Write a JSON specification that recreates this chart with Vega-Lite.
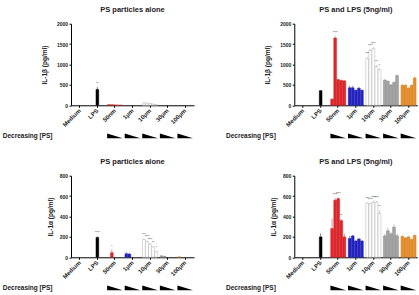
{
 "$schema": "https://vega.github.io/schema/vega-lite/v6.json",
 "padding": {"left": 2, "top": 5.7, "right": 0, "bottom": 0},
 "background": "white",
 "config": {
  "view": {"stroke": null},
  "font": "Liberation Sans",
  "axis": {"domainColor": "#000", "tickColor": "#000", "labelFont": "Liberation Sans", "labelFontWeight": "bold", "labelColor": "#222", "titleFont": "Liberation Sans", "titleFontWeight": "bold", "titleColor": "#222", "grid": false, "tickSize": 2, "domainWidth": 1, "tickWidth": 1},
  "title": {"font": "Liberation Sans", "fontSize": 7.5, "fontWeight": "bold", "color": "#222", "offset": 8}
 },
 "datasets": {
  "tl": [
   {"g": "Medium", "i": 3, "v": 0, "hi": 0},
   {"g": "LPS", "i": 3, "v": 390, "hi": 450, "s": "**"},
   {"g": "50nm", "i": 1, "v": 15, "hi": 20}, {"g": "50nm", "i": 2, "v": 15, "hi": 20}, {"g": "50nm", "i": 3, "v": 10, "hi": 15}, {"g": "50nm", "i": 4, "v": 5, "hi": 8}, {"g": "50nm", "i": 5, "v": 5, "hi": 8},
   {"g": "1µm", "i": 1, "v": 0, "hi": 0}, {"g": "1µm", "i": 2, "v": 0, "hi": 0}, {"g": "1µm", "i": 3, "v": 0, "hi": 0}, {"g": "1µm", "i": 4, "v": 0, "hi": 0}, {"g": "1µm", "i": 5, "v": 0, "hi": 0},
   {"g": "10µm", "i": 1, "v": 60, "hi": 70}, {"g": "10µm", "i": 2, "v": 55, "hi": 65}, {"g": "10µm", "i": 3, "v": 45, "hi": 55}, {"g": "10µm", "i": 4, "v": 30, "hi": 35}, {"g": "10µm", "i": 5, "v": 15, "hi": 20},
   {"g": "30µm", "i": 1, "v": 0, "hi": 0}, {"g": "30µm", "i": 2, "v": 0, "hi": 0}, {"g": "30µm", "i": 3, "v": 0, "hi": 0}, {"g": "30µm", "i": 4, "v": 0, "hi": 0}, {"g": "30µm", "i": 5, "v": 0, "hi": 0},
   {"g": "100µm", "i": 1, "v": 0, "hi": 0}, {"g": "100µm", "i": 2, "v": 0, "hi": 0}, {"g": "100µm", "i": 3, "v": 0, "hi": 0}, {"g": "100µm", "i": 4, "v": 0, "hi": 0}, {"g": "100µm", "i": 5, "v": 0, "hi": 0}
  ],
  "tr": [
   {"g": "Medium", "i": 3, "v": 0, "hi": 0},
   {"g": "LPS", "i": 3, "v": 360, "hi": 375},
   {"g": "50nm", "i": 1, "v": 150, "hi": 180}, {"g": "50nm", "i": 2, "v": 1650, "hi": 1690, "s": "****"}, {"g": "50nm", "i": 3, "v": 630, "hi": 650}, {"g": "50nm", "i": 4, "v": 610, "hi": 630}, {"g": "50nm", "i": 5, "v": 600, "hi": 615},
   {"g": "1µm", "i": 1, "v": 430, "hi": 480}, {"g": "1µm", "i": 2, "v": 430, "hi": 480}, {"g": "1µm", "i": 3, "v": 370, "hi": 390}, {"g": "1µm", "i": 4, "v": 420, "hi": 450}, {"g": "1µm", "i": 5, "v": 370, "hi": 385},
   {"g": "10µm", "i": 1, "v": 1150, "hi": 1190, "s": "***"}, {"g": "10µm", "i": 2, "v": 1350, "hi": 1380, "s": "****"}, {"g": "10µm", "i": 3, "v": 1390, "hi": 1430, "s": "****"}, {"g": "10µm", "i": 4, "v": 950, "hi": 990, "s": "**"}, {"g": "10µm", "i": 5, "v": 870, "hi": 900, "s": "*"},
   {"g": "30µm", "i": 1, "v": 620, "hi": 635}, {"g": "30µm", "i": 2, "v": 590, "hi": 610}, {"g": "30µm", "i": 3, "v": 500, "hi": 520}, {"g": "30µm", "i": 4, "v": 560, "hi": 590}, {"g": "30µm", "i": 5, "v": 730, "hi": 750},
   {"g": "100µm", "i": 1, "v": 490, "hi": 530}, {"g": "100µm", "i": 2, "v": 490, "hi": 530}, {"g": "100µm", "i": 3, "v": 420, "hi": 440}, {"g": "100µm", "i": 4, "v": 490, "hi": 510}, {"g": "100µm", "i": 5, "v": 670, "hi": 710}
  ],
  "bl": [
   {"g": "Medium", "i": 3, "v": 0, "hi": 0},
   {"g": "LPS", "i": 3, "v": 195, "hi": 205, "s": "****"},
   {"g": "50nm", "i": 1, "v": 0, "hi": 0}, {"g": "50nm", "i": 2, "v": 45, "hi": 75, "s": "*"}, {"g": "50nm", "i": 3, "v": 0, "hi": 0}, {"g": "50nm", "i": 4, "v": 0, "hi": 0}, {"g": "50nm", "i": 5, "v": 0, "hi": 0},
   {"g": "1µm", "i": 1, "v": 35, "hi": 50}, {"g": "1µm", "i": 2, "v": 32, "hi": 42}, {"g": "1µm", "i": 3, "v": 0, "hi": 0}, {"g": "1µm", "i": 4, "v": 0, "hi": 0}, {"g": "1µm", "i": 5, "v": 0, "hi": 0},
   {"g": "10µm", "i": 1, "v": 175, "hi": 185, "s": "***"}, {"g": "10µm", "i": 2, "v": 155, "hi": 165, "s": "****"}, {"g": "10µm", "i": 3, "v": 130, "hi": 140, "s": "****"}, {"g": "10µm", "i": 4, "v": 100, "hi": 110, "s": "**"}, {"g": "10µm", "i": 5, "v": 55, "hi": 65, "s": "*"},
   {"g": "30µm", "i": 1, "v": 15, "hi": 18}, {"g": "30µm", "i": 2, "v": 10, "hi": 12}, {"g": "30µm", "i": 3, "v": 0, "hi": 0}, {"g": "30µm", "i": 4, "v": 0, "hi": 0}, {"g": "30µm", "i": 5, "v": 0, "hi": 0},
   {"g": "100µm", "i": 1, "v": 5, "hi": 6}, {"g": "100µm", "i": 2, "v": 0, "hi": 0}, {"g": "100µm", "i": 3, "v": 0, "hi": 0}, {"g": "100µm", "i": 4, "v": 0, "hi": 0}, {"g": "100µm", "i": 5, "v": 0, "hi": 0}
  ],
  "br": [
   {"g": "Medium", "i": 3, "v": 0, "hi": 0},
   {"g": "LPS", "i": 3, "v": 200, "hi": 235},
   {"g": "50nm", "i": 1, "v": 282, "hi": 380}, {"g": "50nm", "i": 2, "v": 560, "hi": 580, "s": "****"}, {"g": "50nm", "i": 3, "v": 575, "hi": 590, "s": "****"}, {"g": "50nm", "i": 4, "v": 360, "hi": 375, "s": "**"}, {"g": "50nm", "i": 5, "v": 200, "hi": 230},
   {"g": "1µm", "i": 1, "v": 185, "hi": 210}, {"g": "1µm", "i": 2, "v": 210, "hi": 220}, {"g": "1µm", "i": 3, "v": 160, "hi": 170}, {"g": "1µm", "i": 4, "v": 180, "hi": 188}, {"g": "1µm", "i": 5, "v": 160, "hi": 170},
   {"g": "10µm", "i": 1, "v": 530, "hi": 540, "s": "***"}, {"g": "10µm", "i": 2, "v": 525, "hi": 535, "s": "****"}, {"g": "10µm", "i": 3, "v": 540, "hi": 555, "s": "****"}, {"g": "10µm", "i": 4, "v": 540, "hi": 550, "s": "****"}, {"g": "10µm", "i": 5, "v": 430, "hi": 460, "s": "**"},
   {"g": "30µm", "i": 1, "v": 210, "hi": 230}, {"g": "30µm", "i": 2, "v": 260, "hi": 290}, {"g": "30µm", "i": 3, "v": 230, "hi": 245}, {"g": "30µm", "i": 4, "v": 295, "hi": 320}, {"g": "30µm", "i": 5, "v": 210, "hi": 230},
   {"g": "100µm", "i": 1, "v": 205, "hi": 215}, {"g": "100µm", "i": 2, "v": 190, "hi": 200}, {"g": "100µm", "i": 3, "v": 200, "hi": 210}, {"g": "100µm", "i": 4, "v": 175, "hi": 185}, {"g": "100µm", "i": 5, "v": 215, "hi": 225}
  ],
  "tri": [{"g": "50nm"}, {"g": "1µm"}, {"g": "10µm"}, {"g": "30µm"}, {"g": "100µm"}]
 },
 "columns": 2,
 "bounds": "flush",
 "spacing": {"row": 29, "column": 100.3},
 "concat": [
  {
   "width": 123, "height": 81.6,
   "title": "PS particles alone",
   "data": {"name": "tl"},
   "encoding": {
    "x": {"field": "g", "type": "nominal", "sort": ["Medium","LPS","50nm","1µm","10µm","30µm","100µm"], "scale": {"type": "band", "domain": ["Medium","LPS","50nm","1µm","10µm","30µm","100µm"], "paddingInner": 0, "paddingOuter": 0}, "axis": {"title": null, "labelAngle": -45, "labelAlign": "right", "labelBaseline": "middle", "labelFontSize": 6, "labelPadding": 2}},
    "xOffset": {"field": "i", "type": "ordinal", "scale": {"domain": [1,2,3,4,5], "paddingInner": 0.08, "paddingOuter": 0.4}},
    "y": {"field": "v", "type": "quantitative", "scale": {"domain": [0, 2000]}, "axis": {"title": "IL-1β (pg/ml)", "format": "d", "values": [0,500,1000,1500,2000], "labelFontSize": 5, "labelPadding": 1.5, "titleFontSize": 6.5, "titlePadding": 9}}
   },
   "layer": [
    {"transform": [{"filter": "datum.v > 0"}], "mark": {"type": "bar", "strokeWidth": 0.4}, "encoding": {
      "color": {"field": "g", "type": "nominal", "scale": {"domain": ["Medium","LPS","50nm","1µm","10µm","30µm","100µm"], "range": ["#000000","#000000","#e4262a","#2424c6","#ffffff","#a5a5a5","#e8902c"]}, "legend": null},
      "stroke": {"field": "g", "type": "nominal", "scale": {"domain": ["Medium","LPS","50nm","1µm","10µm","30µm","100µm"], "range": ["#000000","#000000","#b81c1f","#1a1a9a","#a0a0a0","#7a7a7a","#c4731c"]}, "legend": null}}},
    {"transform": [{"filter": "datum.hi > datum.v"}], "mark": {"type": "rule", "strokeWidth": 0.5}, "encoding": {"y2": {"field": "hi"},
      "stroke": {"field": "g", "type": "nominal", "scale": {"domain": ["Medium","LPS","50nm","1µm","10µm","30µm","100µm"], "range": ["#000000","#000000","#b81c1f","#1a1a9a","#a0a0a0","#7a7a7a","#c4731c"]}, "legend": null}}},
    {"transform": [{"filter": "datum.s"}], "mark": {"type": "text", "fontSize": 3, "baseline": "bottom", "dy": -1, "color": "#333"}, "encoding": {"y": {"field": "hi", "type": "quantitative"}, "text": {"field": "s"}}}
   ]
  },
  {
   "width": 123, "height": 81.6,
   "title": "PS and LPS (5ng/ml)",
   "data": {"name": "tr"},
   "encoding": {
    "x": {"field": "g", "type": "nominal", "sort": ["Medium","LPS","50nm","1µm","10µm","30µm","100µm"], "scale": {"type": "band", "domain": ["Medium","LPS","50nm","1µm","10µm","30µm","100µm"], "paddingInner": 0, "paddingOuter": 0}, "axis": {"title": null, "labelAngle": -45, "labelAlign": "right", "labelBaseline": "middle", "labelFontSize": 6, "labelPadding": 2}},
    "xOffset": {"field": "i", "type": "ordinal", "scale": {"domain": [1,2,3,4,5], "paddingInner": 0.08, "paddingOuter": 0.4}},
    "y": {"field": "v", "type": "quantitative", "scale": {"domain": [0, 2000]}, "axis": {"title": "IL-1β (pg/ml)", "format": "d", "values": [0,500,1000,1500,2000], "labelFontSize": 5, "labelPadding": 1.5, "titleFontSize": 6.5, "titlePadding": 9}}
   },
   "layer": [
    {"transform": [{"filter": "datum.v > 0"}], "mark": {"type": "bar", "strokeWidth": 0.4}, "encoding": {
      "color": {"field": "g", "type": "nominal", "scale": {"domain": ["Medium","LPS","50nm","1µm","10µm","30µm","100µm"], "range": ["#000000","#000000","#e4262a","#2424c6","#ffffff","#a5a5a5","#e8902c"]}, "legend": null},
      "stroke": {"field": "g", "type": "nominal", "scale": {"domain": ["Medium","LPS","50nm","1µm","10µm","30µm","100µm"], "range": ["#000000","#000000","#b81c1f","#1a1a9a","#a0a0a0","#7a7a7a","#c4731c"]}, "legend": null}}},
    {"transform": [{"filter": "datum.hi > datum.v"}], "mark": {"type": "rule", "strokeWidth": 0.5}, "encoding": {"y2": {"field": "hi"},
      "stroke": {"field": "g", "type": "nominal", "scale": {"domain": ["Medium","LPS","50nm","1µm","10µm","30µm","100µm"], "range": ["#000000","#000000","#b81c1f","#1a1a9a","#a0a0a0","#7a7a7a","#c4731c"]}, "legend": null}}},
    {"transform": [{"filter": "datum.s"}], "mark": {"type": "text", "fontSize": 3, "baseline": "bottom", "dy": -1, "color": "#333"}, "encoding": {"y": {"field": "hi", "type": "quantitative"}, "text": {"field": "s"}}}
   ]
  },
  {
   "width": 123, "height": 12,
   "data": {"name": "tri"},
   "mark": {"type": "point", "shape": "M-1,-0.3L1,0.3L-1,0.3Z", "filled": true, "color": "#000", "opacity": 1, "size": 243},
   "encoding": {
    "x": {"field": "g", "type": "nominal", "scale": {"type": "band", "domain": ["Medium","LPS","50nm","1µm","10µm","30µm","100µm"], "paddingInner": 0, "paddingOuter": 0}, "axis": null},
    "y": {"datum": 0.9, "type": "quantitative", "scale": {"domain": [0, 1]}, "axis": {"values": [0.9], "labelExpr": "'Decreasing [PS]'", "domain": false, "ticks": false, "labelPadding": 19, "labelFontSize": 6.5, "title": null}}
   }
  },
  {
   "width": 123, "height": 12,
   "data": {"name": "tri"},
   "mark": {"type": "point", "shape": "M-1,-0.3L1,0.3L-1,0.3Z", "filled": true, "color": "#000", "opacity": 1, "size": 243},
   "encoding": {
    "x": {"field": "g", "type": "nominal", "scale": {"type": "band", "domain": ["Medium","LPS","50nm","1µm","10µm","30µm","100µm"], "paddingInner": 0, "paddingOuter": 0}, "axis": null},
    "y": {"datum": 0.9, "type": "quantitative", "scale": {"domain": [0, 1]}, "axis": {"values": [0.9], "labelExpr": "'Decreasing [PS]'", "domain": false, "ticks": false, "labelPadding": 19, "labelFontSize": 6.5, "title": null}}
   }
  },
  {
   "width": 123, "height": 81.6,
   "title": "PS particles alone",
   "data": {"name": "bl"},
   "encoding": {
    "x": {"field": "g", "type": "nominal", "sort": ["Medium","LPS","50nm","1µm","10µm","30µm","100µm"], "scale": {"type": "band", "domain": ["Medium","LPS","50nm","1µm","10µm","30µm","100µm"], "paddingInner": 0, "paddingOuter": 0}, "axis": {"title": null, "labelAngle": -45, "labelAlign": "right", "labelBaseline": "middle", "labelFontSize": 6, "labelPadding": 2}},
    "xOffset": {"field": "i", "type": "ordinal", "scale": {"domain": [1,2,3,4,5], "paddingInner": 0.08, "paddingOuter": 0.4}},
    "y": {"field": "v", "type": "quantitative", "scale": {"domain": [0, 800]}, "axis": {"title": "IL-1α (pg/ml)", "format": "d", "values": [0,200,400,600,800], "labelFontSize": 5, "labelPadding": 1.5, "titleFontSize": 6.5, "titlePadding": 6}}
   },
   "layer": [
    {"transform": [{"filter": "datum.v > 0"}], "mark": {"type": "bar", "strokeWidth": 0.4}, "encoding": {
      "color": {"field": "g", "type": "nominal", "scale": {"domain": ["Medium","LPS","50nm","1µm","10µm","30µm","100µm"], "range": ["#000000","#000000","#e4262a","#2424c6","#ffffff","#a5a5a5","#e8902c"]}, "legend": null},
      "stroke": {"field": "g", "type": "nominal", "scale": {"domain": ["Medium","LPS","50nm","1µm","10µm","30µm","100µm"], "range": ["#000000","#000000","#b81c1f","#1a1a9a","#a0a0a0","#7a7a7a","#c4731c"]}, "legend": null}}},
    {"transform": [{"filter": "datum.hi > datum.v"}], "mark": {"type": "rule", "strokeWidth": 0.5}, "encoding": {"y2": {"field": "hi"},
      "stroke": {"field": "g", "type": "nominal", "scale": {"domain": ["Medium","LPS","50nm","1µm","10µm","30µm","100µm"], "range": ["#000000","#000000","#b81c1f","#1a1a9a","#a0a0a0","#7a7a7a","#c4731c"]}, "legend": null}}},
    {"transform": [{"filter": "datum.s"}], "mark": {"type": "text", "fontSize": 3, "baseline": "bottom", "dy": -1, "color": "#333"}, "encoding": {"y": {"field": "hi", "type": "quantitative"}, "text": {"field": "s"}}}
   ]
  },
  {
   "width": 123, "height": 81.6,
   "title": "PS and LPS (5ng/ml)",
   "data": {"name": "br"},
   "encoding": {
    "x": {"field": "g", "type": "nominal", "sort": ["Medium","LPS","50nm","1µm","10µm","30µm","100µm"], "scale": {"type": "band", "domain": ["Medium","LPS","50nm","1µm","10µm","30µm","100µm"], "paddingInner": 0, "paddingOuter": 0}, "axis": {"title": null, "labelAngle": -45, "labelAlign": "right", "labelBaseline": "middle", "labelFontSize": 6, "labelPadding": 2}},
    "xOffset": {"field": "i", "type": "ordinal", "scale": {"domain": [1,2,3,4,5], "paddingInner": 0.08, "paddingOuter": 0.4}},
    "y": {"field": "v", "type": "quantitative", "scale": {"domain": [0, 800]}, "axis": {"title": "IL-1α (pg/ml)", "format": "d", "values": [0,200,400,600,800], "labelFontSize": 5, "labelPadding": 1.5, "titleFontSize": 6.5, "titlePadding": 6}}
   },
   "layer": [
    {"transform": [{"filter": "datum.v > 0"}], "mark": {"type": "bar", "strokeWidth": 0.4}, "encoding": {
      "color": {"field": "g", "type": "nominal", "scale": {"domain": ["Medium","LPS","50nm","1µm","10µm","30µm","100µm"], "range": ["#000000","#000000","#e4262a","#2424c6","#ffffff","#a5a5a5","#e8902c"]}, "legend": null},
      "stroke": {"field": "g", "type": "nominal", "scale": {"domain": ["Medium","LPS","50nm","1µm","10µm","30µm","100µm"], "range": ["#000000","#000000","#b81c1f","#1a1a9a","#a0a0a0","#7a7a7a","#c4731c"]}, "legend": null}}},
    {"transform": [{"filter": "datum.hi > datum.v"}], "mark": {"type": "rule", "strokeWidth": 0.5}, "encoding": {"y2": {"field": "hi"},
      "stroke": {"field": "g", "type": "nominal", "scale": {"domain": ["Medium","LPS","50nm","1µm","10µm","30µm","100µm"], "range": ["#000000","#000000","#b81c1f","#1a1a9a","#a0a0a0","#7a7a7a","#c4731c"]}, "legend": null}}},
    {"transform": [{"filter": "datum.s"}], "mark": {"type": "text", "fontSize": 3, "baseline": "bottom", "dy": -1, "color": "#333"}, "encoding": {"y": {"field": "hi", "type": "quantitative"}, "text": {"field": "s"}}}
   ]
  },
  {
   "width": 123, "height": 12,
   "data": {"name": "tri"},
   "mark": {"type": "point", "shape": "M-1,-0.3L1,0.3L-1,0.3Z", "filled": true, "color": "#000", "opacity": 1, "size": 243},
   "encoding": {
    "x": {"field": "g", "type": "nominal", "scale": {"type": "band", "domain": ["Medium","LPS","50nm","1µm","10µm","30µm","100µm"], "paddingInner": 0, "paddingOuter": 0}, "axis": null},
    "y": {"datum": 0.9, "type": "quantitative", "scale": {"domain": [0, 1]}, "axis": {"values": [0.9], "labelExpr": "'Decreasing [PS]'", "domain": false, "ticks": false, "labelPadding": 19, "labelFontSize": 6.5, "title": null}}
   }
  },
  {
   "width": 123, "height": 12,
   "data": {"name": "tri"},
   "mark": {"type": "point", "shape": "M-1,-0.3L1,0.3L-1,0.3Z", "filled": true, "color": "#000", "opacity": 1, "size": 243},
   "encoding": {
    "x": {"field": "g", "type": "nominal", "scale": {"type": "band", "domain": ["Medium","LPS","50nm","1µm","10µm","30µm","100µm"], "paddingInner": 0, "paddingOuter": 0}, "axis": null},
    "y": {"datum": 0.9, "type": "quantitative", "scale": {"domain": [0, 1]}, "axis": {"values": [0.9], "labelExpr": "'Decreasing [PS]'", "domain": false, "ticks": false, "labelPadding": 19, "labelFontSize": 6.5, "title": null}}
   }
  }
 ]
}
